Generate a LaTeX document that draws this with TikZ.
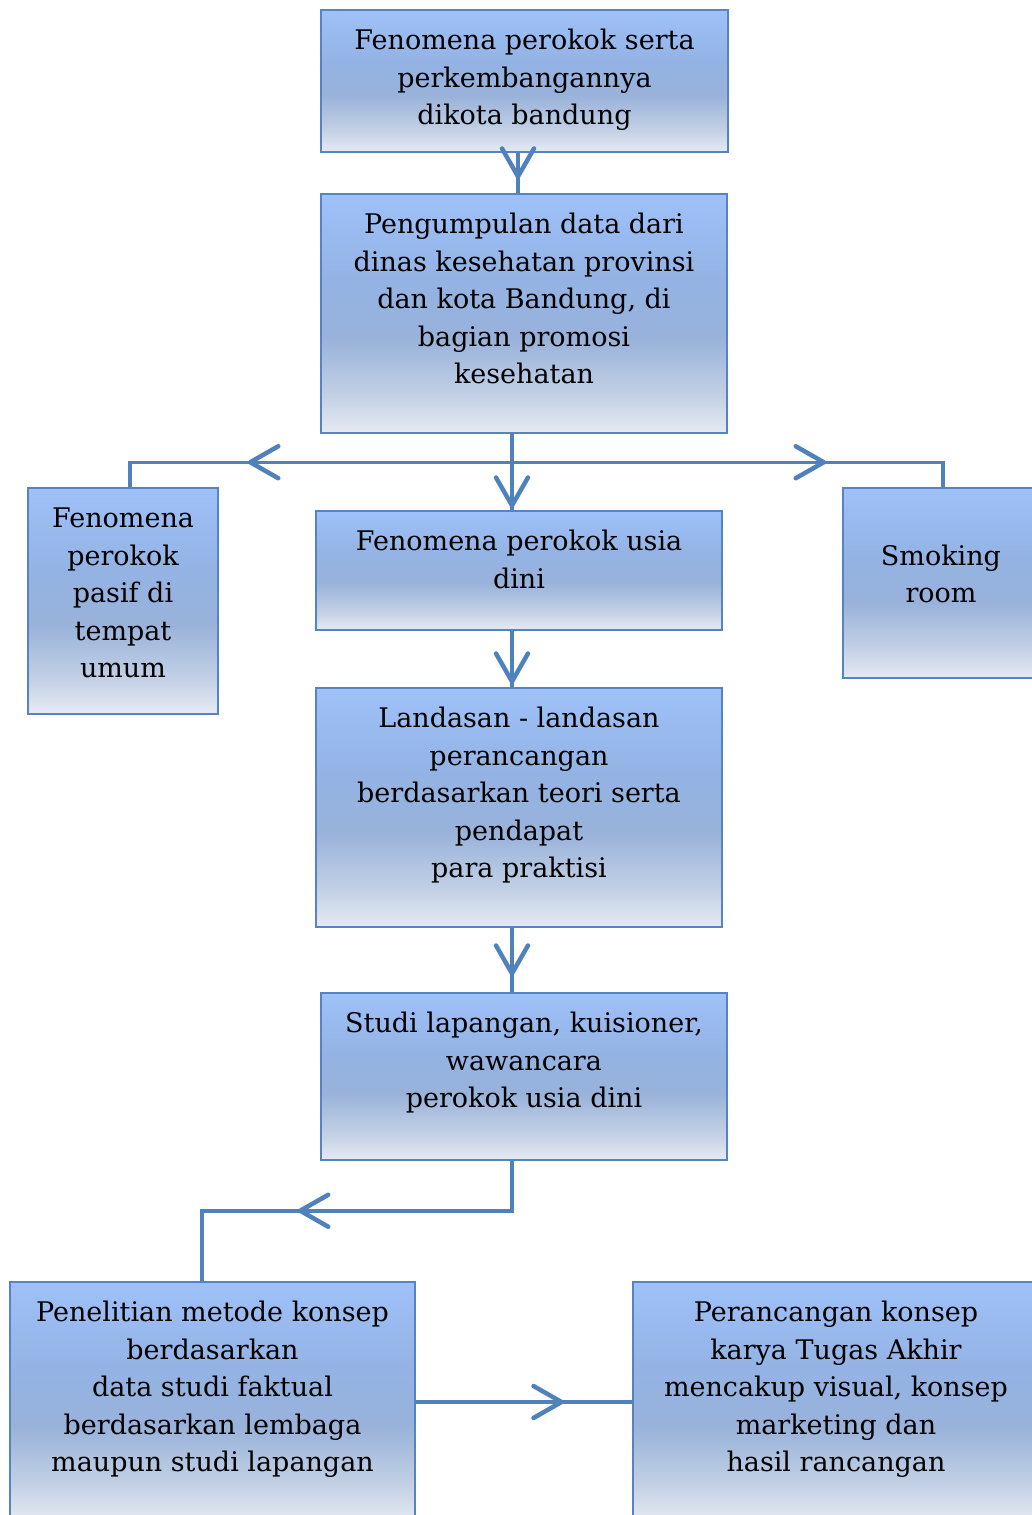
\documentclass[tikz,border=0pt]{standalone}
\usepackage{fontspec}
\setmainfont{DejaVu Serif}
\usetikzlibrary{arrows.meta,decorations.markings}

\definecolor{arrowc}{RGB}{79,129,189}
\definecolor{boxline}{RGB}{86,132,194}
\definecolor{shb}{RGB}{230,235,243}
\definecolor{shq}{RGB}{196,209,229}
\definecolor{shm}{RGB}{152,178,218}
\definecolor{shn}{RGB}{148,179,228}
\definecolor{sht}{RGB}{158,193,249}
\pgfdeclareverticalshading{boxshade}{100bp}{color(0bp)=(shb); color(25bp)=(shb); color(32.5bp)=(shq); color(45bp)=(shm); color(57bp)=(shn); color(75bp)=(sht); color(100bp)=(sht)}

% text set from the top of a box of given size
\newcommand{\boxtext}[3]{\parbox[c][#2][t]{#1}{\centering\rule{0pt}{39.5pt}#3}}

\begin{document}
\begin{tikzpicture}[x=1pt,y=-1pt,
  box/.style={draw=boxline, line width=1.5pt, shade, shading=boxshade, inner sep=0pt,
    font=\fontsize{27}{37.5}\selectfont},
  conn/.style={draw=arrowc, line width=3.5pt},
  chev/.tip={Straight Barb[length=28pt,width=32pt,line width=4.5pt,round]},
  midtip/.style={postaction={decorate}, decoration={markings, mark=at position #1 with {\arrow{chev}}}}]
  \useasboundingbox (0,0) rectangle (1031,1515);

  \node[box] (fen)   at (524.5,81)   {\boxtext{407pt}{142pt}{Fenomena perokok serta\\perkembangannya\\dikota bandung}};
  \node[box] (data)  at (524,313.5)  {\boxtext{406pt}{239pt}{Pengumpulan data dari\\dinas kesehatan provinsi\\dan kota Bandung, di\\bagian promosi\\kesehatan}};
  \node[box] (pasif) at (123,601)    {\boxtext{190pt}{226pt}{Fenomena\\perokok\\pasif di\\tempat\\umum}};
  \node[box] (dini)  at (519,570.5)  {\boxtext{406pt}{119pt}{Fenomena perokok usia\\dini}};
  \node[box] (room)  at (941,583)    {\boxtext{196pt}{190pt}{\mbox{}\\Smoking\\room}};
  \node[box] (dasar) at (519,807.5)  {\boxtext{406pt}{239pt}{Landasan - landasan\\perancangan\\berdasarkan teori serta\\pendapat\\para praktisi}};
  \node[box] (studi) at (524,1076.5) {\boxtext{406pt}{167pt}{Studi lapangan, kuisioner,\\wawancara\\perokok usia dini}};
  \node[box] (teliti) at (212.5,1402) {\boxtext{405pt}{240pt}{Penelitian metode konsep\\berdasarkan\\data studi faktual\\berdasarkan lembaga\\maupun studi lapangan}};
  \node[box] (karya) at (836,1402)   {\boxtext{406pt}{240pt}{Perancangan konsep\\karya Tugas Akhir\\mencakup visual, konsep\\marketing dan\\hasil rancangan}};

  % connectors
  \draw[conn, midtip=26pt] ([xshift=-6.5pt]fen.south) -- ([xshift=-6.5pt]fen.south |- data.north);
  \draw[conn, midtip=74pt] ([xshift=-12pt]data.south) -- ([xshift=-12pt]data.south |- dini.north);
  \draw[conn, postaction={decorate}, decoration={markings,
      mark=at position 143pt with {\arrowreversed{chev}},
      mark=at position 721pt with {\arrow{chev}}}]
    ([xshift=7pt]pasif.north) -- ++(0,-25) -| ([xshift=2pt]room.north);
  \draw[conn, midtip=53pt] ([xshift=-7pt]dini.south) -- ([xshift=-7pt]dini.south |- dasar.north);
  \draw[conn, midtip=48pt] ([xshift=-7pt]dasar.south) -- ([xshift=-7pt]dasar.south |- studi.north);
  \draw[conn, midtip=264pt] ([xshift=-12pt]studi.south) -- ++(0,50) -| ([xshift=-10.5pt]teliti.north);
  \draw[conn, midtip=148pt] (teliti.east) -- (karya.west);
\end{tikzpicture}
\end{document}
